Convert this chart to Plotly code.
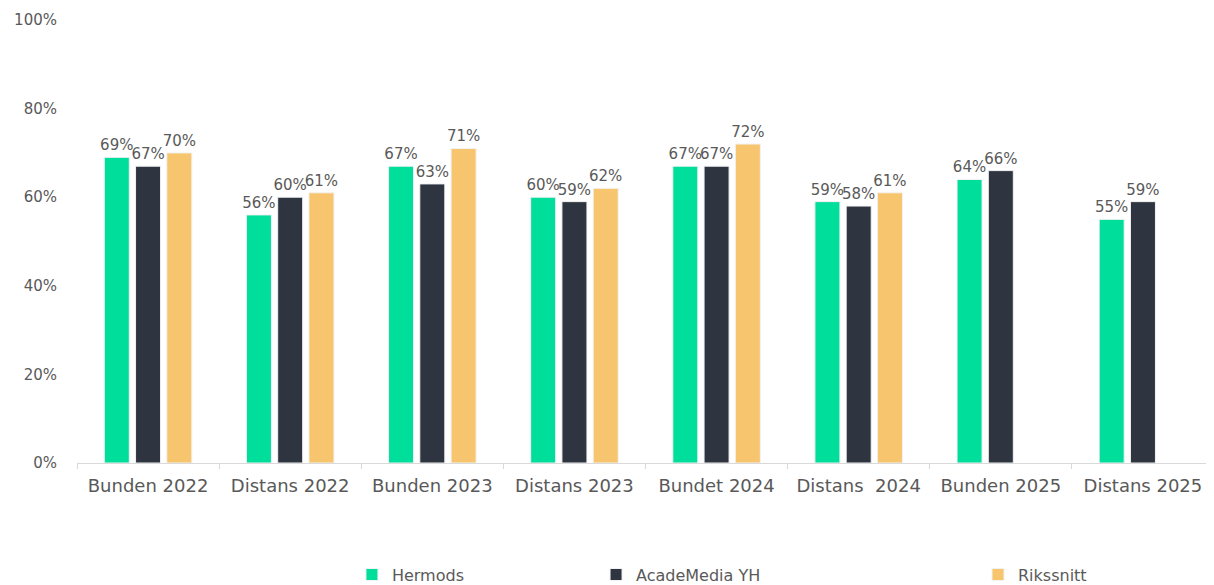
import plotly.graph_objects as go

categories = ["Bunden 2022", "Distans 2022", "Bunden 2023", "Distans 2023",
              "Bundet 2024", "Distans  2024", "Bunden 2025", "Distans 2025"]
hermods = [69, 56, 67, 60, 67, 59, 64, 55]
academedia = [67, 60, 63, 59, 67, 58, 66, 59]
rikssnitt = [70, 61, 71, 62, 72, 61, None, None]

series = [("Hermods", hermods, "#00DE9C", "legend", 0.2852),
          ("AcadeMedia YH", academedia, "#2E3440", "legend2", 0.4876),
          ("Rikssnitt", rikssnitt, "#F7C56E", "legend3", 0.8043)]

FONT = "DejaVu Sans, sans-serif"
gray = "#595959"

fig = go.Figure()
for name, vals, color, leg, _ in series:
    fig.add_trace(go.Bar(
        x=categories, y=vals, name=name,
        marker=dict(color=color, line=dict(color="#f2f2f2", width=1)),
        text=[f"{v}%" if v is not None else "" for v in vals],
        textposition="outside", constraintext="none", cliponaxis=False,
        textfont=dict(color=gray, size=15, family=FONT),
        legend=leg,
    ))

leg_common = dict(orientation="h", xref="container", yref="container",
                  yanchor="middle", y=0.018, xanchor="left", itemwidth=30,
                  font=dict(color=gray, size=16, family=FONT), bgcolor="rgba(0,0,0,0)")
layout_legends = {}
for name, vals, color, leg, xpos in series:
    layout_legends[leg] = dict(leg_common, x=xpos)

# page body adds an 8px margin; the figure is sized to fill the remaining window
fig.update_layout(
    width=1206, height=577,
    margin=dict(l=69, r=0, t=12, b=122),
    plot_bgcolor="white", paper_bgcolor="white",
    font=dict(family=FONT, color=gray, size=15),
    barmode="group", bargap=0.34, bargroupgap=0.2,
    showlegend=True,
    yaxis=dict(range=[0, 100], tickvals=[0, 20, 40, 60, 80, 100],
               ticktext=["0%", "20%", "40%", "60%", "80%", "100%"],
               showgrid=False, zeroline=False, showline=False, automargin=False,
               tickfont=dict(size=15, color=gray, family=FONT), ticks="",
               ticklabelstandoff=19),
    xaxis=dict(showline=True, linecolor="#d9d9d9", linewidth=1, automargin=False,
               ticks="outside", tickson="boundaries", tickcolor="#d9d9d9", ticklen=5,
               tickfont=dict(size=18, color=gray, family=FONT), showgrid=False,
               ticklabelstandoff=6),
    **layout_legends,
)

fig.write_html("out.html")
